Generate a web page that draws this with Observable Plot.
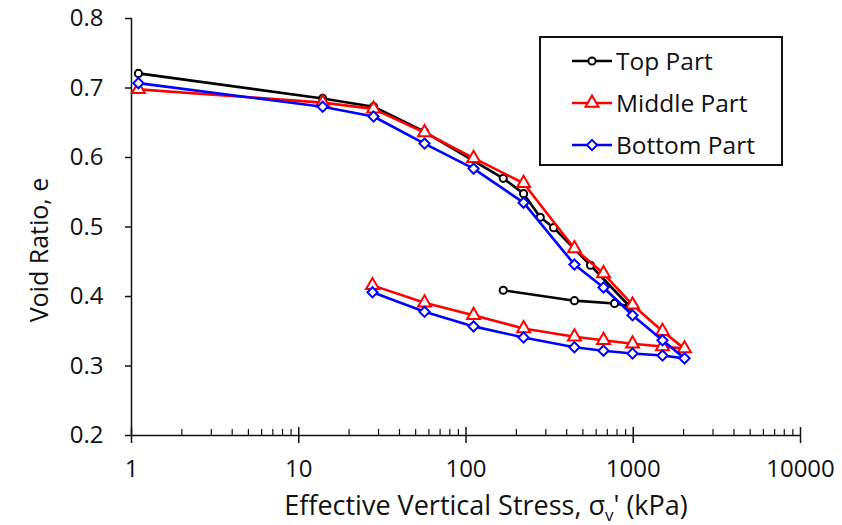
<!DOCTYPE html>
<html>
<head>
<meta charset="utf-8">
<script src="https://cdn.jsdelivr.net/npm/d3@7"></script>
<script src="https://cdn.jsdelivr.net/npm/@observablehq/plot@0.6"></script>
<style>
  body { margin: 0; background: #fff; }
  #wrap { position: relative; width: 842px; height: 525px; font-family: "Open Sans", sans-serif; color: #111; }
  #legend { position: absolute; left: 539px; top: 36px; width: 240px; height: 126px; border: 2px solid #111; background: #fff; box-sizing: content-box; }
  .li { position: absolute; left: 30px; height: 30px; display: flex; align-items: center; font-size: 24.5px; }
  .li svg { margin-right: 3px; }
  #ylabel { position: absolute; left: 38px; top: 250px; transform: translate(-50%, -50%) rotate(-90deg); font-size: 25px; white-space: nowrap; }
  #xlabel { position: absolute; left: 486px; top: 505px; transform: translate(-50%, -50%); font-size: 27px; white-space: nowrap; line-height: 1.2; }
  #xlabel sub { font-size: 17px; vertical-align: -6px; line-height: 0; }
</style>
</head>
<body>
<div id="wrap"></div>
<script>
// ---- data ----
const seriesNames = ["Top Part", "Middle Part", "Bottom Part"];
const seriesColors = ["#000000", "#ff0000", "#0000ff"];
const seriesSymbols = ["circle", "triangle", "diamond2"];

const topStress  = [1.1, 13.9, 28, 56.5, 167, 221, 278, 334, 555, 950, 773, 445, 167];
const topVoid    = [0.721, 0.685, 0.673, 0.637, 0.570, 0.548, 0.514, 0.499, 0.445, 0.386, 0.390, 0.394, 0.409];

const midStress  = [1.1, 13.9, 28, 56.5, 111, 221, 445, 664, 990, 1496, 2025, 1496, 990, 664, 445, 221, 111, 56.5, 27.6];
const midVoid    = [0.698, 0.679, 0.670, 0.636, 0.599, 0.563, 0.469, 0.433, 0.388, 0.350, 0.325, 0.328, 0.332, 0.337, 0.342, 0.354, 0.373, 0.391, 0.416];

const botStress  = [1.1, 13.9, 28, 56.5, 111, 221, 445, 664, 990, 1496, 2025, 1496, 990, 664, 445, 221, 111, 56.5, 27.6];
const botVoid    = [0.707, 0.673, 0.659, 0.620, 0.584, 0.535, 0.446, 0.413, 0.373, 0.337, 0.311, 0.315, 0.318, 0.322, 0.327, 0.341, 0.357, 0.378, 0.406];

const yTicks = [0.2, 0.3, 0.4, 0.5, 0.6, 0.7, 0.8];
const xMajor = [1, 10, 100, 1000, 10000];
const xMinor = [];
for (const d of [1, 10, 100, 1000]) for (let k = 2; k <= 9; k++) xMinor.push(d * k);

const stresses = [topStress, midStress, botStress];
const voids = [topVoid, midVoid, botVoid];
const rows = [];
seriesNames.forEach((name, i) => {
  stresses[i].forEach((s, j) => rows.push({series: name, stress: s, e: voids[i][j], order: j}));
});

const font = '"Open Sans", sans-serif';
const radii = [3.6, 4.8, 4.6];
const marks = [];
seriesNames.forEach((name, i) => {
  const d = rows.filter(r => r.series === name);
  marks.push(Plot.line(d, {x: "stress", y: "e", stroke: seriesColors[i], strokeWidth: 2.6}));
  marks.push(Plot.dot(d, {x: "stress", y: "e", symbol: () => seriesSymbols[i], r: radii[i], fill: "white", stroke: seriesColors[i], strokeWidth: 2}));
});

const chart = Plot.plot({
  width: 842,
  height: 525,
  marginLeft: 131,
  marginRight: 42,
  marginTop: 18,
  marginBottom: 90,
  style: {fontFamily: font, fontSize: "24px", color: "#111", background: "white"},
  x: {type: "log", domain: [1, 10000]},
  y: {domain: [0.2, 0.8]},
  marks: [
    Plot.axisY(yTicks, {tickSize: 6, tickPadding: 22, tickFormat: d3.format(".1f"), fontSize: 24, label: null, strokeWidth: 1.5}),
    Plot.axisX(xMajor, {tickSize: 8, tickPadding: 16, tickFormat: d => String(d), fontSize: 24, label: null, strokeWidth: 1.5}),
    Plot.ruleX(xMajor, {y1: 0.2, y2: 0.2, insetTop: -8, stroke: "#111", strokeWidth: 1.5}),
    Plot.ruleX(xMinor, {y1: 0.2, y2: 0.2, insetTop: -6, stroke: "#111", strokeWidth: 1.2}),
    Plot.ruleX([1], {stroke: "#111", strokeWidth: 1.5}),
    Plot.ruleY([0.2], {stroke: "#111", strokeWidth: 1.5}),
    ...marks
  ]
});

const wrap = document.getElementById("wrap");
wrap.appendChild(chart);

const yl = document.createElement("div");
yl.id = "ylabel";
yl.textContent = "Void Ratio, e";
wrap.appendChild(yl);

const xl = document.createElement("div");
xl.id = "xlabel";
xl.innerHTML = "Effective Vertical Stress, σ<sub>v</sub>' (kPa)";
wrap.appendChild(xl);

// legend
const legend = document.createElement("div");
legend.id = "legend";
const symMap = {circle: d3.symbolCircle, triangle: d3.symbolTriangle, diamond2: d3.symbolDiamond2};
seriesNames.forEach((name, i) => {
  const item = document.createElement("div");
  item.className = "li";
  item.style.top = (7 + i * 42) + "px";
  const s = d3.create("svg").attr("width", 42).attr("height", 20);
  s.append("line").attr("x1", 1).attr("x2", 41).attr("y1", 11).attr("y2", 11)
    .attr("stroke", seriesColors[i]).attr("stroke-width", 2.6);
  const area = Math.PI * radii[i] * radii[i];
  s.append("path").attr("d", d3.symbol(symMap[seriesSymbols[i]], area)()).attr("transform", "translate(21,11)")
    .attr("fill", "white").attr("stroke", seriesColors[i]).attr("stroke-width", 2);
  item.appendChild(s.node());
  const t = document.createElement("span");
  t.textContent = name;
  item.appendChild(t);
  legend.appendChild(item);
});
wrap.appendChild(legend);
</script>
</body>
</html>
